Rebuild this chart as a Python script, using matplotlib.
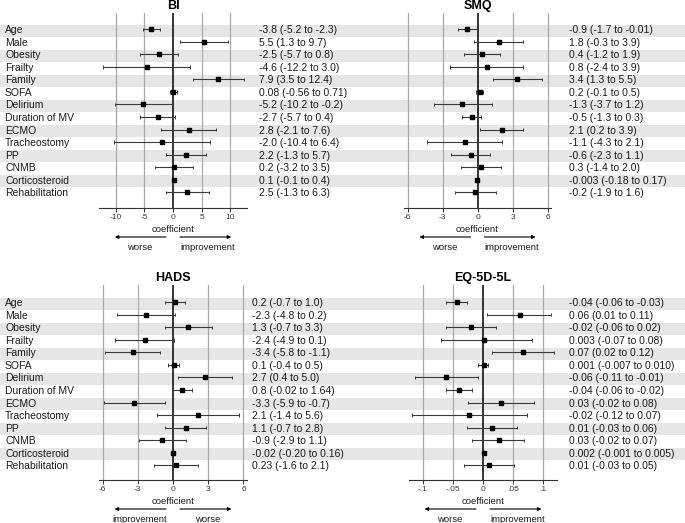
import matplotlib
matplotlib.use("Agg")
import matplotlib.pyplot as plt
from matplotlib.patches import Rectangle
from matplotlib.transforms import blended_transform_factory

plt.rcParams['font.family'] = ['Liberation Sans', 'DejaVu Sans']

W, H = 685, 523

variables = ["Age", "Male", "Obesity", "Frailty", "Family", "SOFA", "Delirium",
             "Duration of MV", "ECMO", "Tracheostomy", "PP", "CNMB",
             "Corticosteroid", "Rehabilitation"]

# ---- BI ----
bi_est = [-3.8, 5.5, -2.5, -4.6, 7.9, 0.08, -5.2, -2.7, 2.8, -2.0, 2.2, 0.2, 0.1, 2.5]
bi_lo = [-5.2, 1.3, -5.7, -12.2, 3.5, -0.56, -10.2, -5.7, -2.1, -10.4, -1.3, -3.2, -0.1, -1.3]
bi_hi = [-2.3, 9.7, 0.8, 3.0, 12.4, 0.71, -0.2, 0.4, 7.6, 6.4, 5.7, 3.5, 0.4, 6.3]
bi_txt = ["-3.8 (-5.2 to -2.3)", "5.5 (1.3 to 9.7)", "-2.5 (-5.7 to 0.8)",
          "-4.6 (-12.2 to 3.0)", "7.9 (3.5 to 12.4)", "0.08 (-0.56 to 0.71)",
          "-5.2 (-10.2 to -0.2)", "-2.7 (-5.7 to 0.4)", "2.8 (-2.1 to 7.6)",
          "-2.0 (-10.4 to 6.4)", "2.2 (-1.3 to 5.7)", "0.2 (-3.2 to 3.5)",
          "0.1 (-0.1 to 0.4)", "2.5 (-1.3 to 6.3)"]

# ---- SMQ ----
smq_est = [-0.9, 1.8, 0.4, 0.8, 3.4, 0.2, -1.3, -0.5, 2.1, -1.1, -0.6, 0.3, -0.003, -0.2]
smq_lo = [-1.7, -0.3, -1.2, -2.4, 1.3, -0.1, -3.7, -1.3, 0.2, -4.3, -2.3, -1.4, -0.18, -1.9]
smq_hi = [-0.01, 3.9, 1.9, 3.9, 5.5, 0.5, 1.2, 0.3, 3.9, 2.1, 1.1, 2.0, 0.17, 1.6]
smq_txt = ["-0.9 (-1.7 to -0.01)", "1.8 (-0.3 to 3.9)", "0.4 (-1.2 to 1.9)",
           "0.8 (-2.4 to 3.9)", "3.4 (1.3 to 5.5)", "0.2 (-0.1 to 0.5)",
           "-1.3 (-3.7 to 1.2)", "-0.5 (-1.3 to 0.3)", "2.1 (0.2 to 3.9)",
           "-1.1 (-4.3 to 2.1)", "-0.6 (-2.3 to 1.1)", "0.3 (-1.4 to 2.0)",
           "-0.003 (-0.18 to 0.17)", "-0.2 (-1.9 to 1.6)"]

# ---- HADS ----
hads_est = [0.2, -2.3, 1.3, -2.4, -3.4, 0.1, 2.7, 0.8, -3.3, 2.1, 1.1, -0.9, -0.02, 0.23]
hads_lo = [-0.7, -4.8, -0.7, -4.9, -5.8, -0.4, 0.4, -0.02, -5.9, -1.4, -0.7, -2.9, -0.20, -1.6]
hads_hi = [1.0, 0.2, 3.3, 0.1, -1.1, 0.5, 5.0, 1.64, -0.7, 5.6, 2.8, 1.1, 0.16, 2.1]
hads_txt = ["0.2 (-0.7 to 1.0)", "-2.3 (-4.8 to 0.2)", "1.3 (-0.7 to 3.3)",
            "-2.4 (-4.9 to 0.1)", "-3.4 (-5.8 to -1.1)", "0.1 (-0.4 to 0.5)",
            "2.7 (0.4 to 5.0)", "0.8 (-0.02 to 1.64)", "-3.3 (-5.9 to -0.7)",
            "2.1 (-1.4 to 5.6)", "1.1 (-0.7 to 2.8)", "-0.9 (-2.9 to 1.1)",
            "-0.02 (-0.20 to 0.16)", "0.23 (-1.6 to 2.1)"]

# ---- EQ-5D-5L ----
eq_est = [-0.043, 0.061, -0.020, 0.002, 0.066, 0.001, -0.061, -0.040, 0.030, -0.023, 0.015, 0.026, 0.002, 0.010]
eq_lo = [-0.062, 0.007, -0.062, -0.070, 0.015, -0.008, -0.113, -0.062, -0.025, -0.118, -0.026, -0.018, -0.001, -0.031]
eq_hi = [-0.026, 0.113, 0.022, 0.082, 0.118, 0.009, -0.008, -0.018, 0.085, 0.073, 0.056, 0.068, 0.005, 0.051]
eq_txt = ["-0.04 (-0.06 to -0.03)", "0.06 (0.01 to 0.11)", "-0.02 (-0.06 to 0.02)",
          "0.003 (-0.07 to 0.08)", "0.07 (0.02 to 0.12)", "0.001 (-0.007 to 0.010)",
          "-0.06 (-0.11 to -0.01)", "-0.04 (-0.06 to -0.02)", "0.03 (-0.02 to 0.08)",
          "-0.02 (-0.12 to 0.07)", "0.01 (-0.03 to 0.06)", "0.03 (-0.02 to 0.07)",
          "0.002 (-0.001 to 0.005)", "0.01 (-0.03 to 0.05)"]

bi_ticks = [-10, -5, 0, 5, 10]
bi_ticklabels = ["-10", "-5", "0", "5", "10"]
six_ticks = [-6, -3, 0, 3, 6]
six_ticklabels = ["-6", "-3", "0", "3", "6"]
eq_ticks = [-0.1, -0.05, 0, 0.05, 0.1]
eq_ticklabels = ["-.1", "-.05", "0", ".05", ".1"]

panels = [
    dict(title="BI", est=bi_est, lo=bi_lo, hi=bi_hi, txt=bi_txt,
         px=(99.3, 246.7, 13, 208), row0=29.3, xlim=12.9,
         ticks=bi_ticks, tl=bi_ticklabels, textx=259, labels=True,
         left="worse", right="improvement", bands=True),
    dict(title="SMQ", est=smq_est, lo=smq_lo, hi=smq_hi, txt=smq_txt,
         px=(404, 551, 13, 208), row0=29.3, xlim=6.3,
         ticks=six_ticks, tl=six_ticklabels, textx=569, labels=False,
         left="worse", right="improvement", bands=False),
    dict(title="HADS", est=hads_est, lo=hads_lo, hi=hads_hi, txt=hads_txt,
         px=(99, 247, 285, 480), row0=302.3, xlim=6.3,
         ticks=six_ticks, tl=six_ticklabels, textx=252, labels=True,
         left="improvement", right="worse", bands=True),
    dict(title="EQ-5D-5L", est=eq_est, lo=eq_lo, hi=eq_hi, txt=eq_txt,
         px=(409, 557, 285, 480), row0=302.3, xlim=0.123,
         ticks=eq_ticks, tl=eq_ticklabels, textx=569, labels=False,
         left="worse", right="improvement", bands=False),
]

fig = plt.figure(figsize=(W / 100, H / 100), dpi=100)
fig.patch.set_facecolor("white")

spacing = 12.53
n = len(variables)
band_col = "#e6e6e6"
grid_col = "#a8a8a8"
txt_col = "#1a1a1a"

def fy(ypx):
    return 1 - ypx / H

for p in panels:
    x0, x1, yt, yb = p["px"]
    ax = fig.add_axes([x0 / W, fy(yb), (x1 - x0) / W, (yb - yt) / H])
    ax.set_facecolor("none")
    ax.set_xlim(-p["xlim"], p["xlim"])
    ytop = -(p["row0"] - yt) / spacing
    ybot = (yb - p["row0"]) / spacing
    ax.set_ylim(ybot, ytop)
    for s in ["top", "right", "left"]:
        ax.spines[s].set_visible(False)
    ax.spines["bottom"].set_color("#333333")
    ax.spines["bottom"].set_linewidth(0.8)
    ax.set_yticks([])
    ax.set_xticks(p["ticks"])
    ax.set_xticklabels(p["tl"])
    ax.tick_params(axis="x", direction="out", length=3, width=0.7, color="#333333",
                   labelsize=6, labelcolor="#333333", pad=1.5)

    bt = blended_transform_factory(fig.transFigure, ax.transData)
    if p["bands"]:
        for i in range(0, n, 2):
            ax.add_patch(Rectangle((0, i - 0.5 + 0.12), 1, 1, transform=bt,
                                   facecolor=band_col, edgecolor="none",
                                   zorder=0, clip_on=False))

    for t in p["ticks"]:
        if t == 0:
            ax.axvline(0, color="black", lw=1.1, zorder=2)
        else:
            ax.axvline(t, color=grid_col, lw=0.9, zorder=1)

    rows = list(range(n))
    ax.hlines(rows, p["lo"], p["hi"], color="#3a3a3a", lw=0.8, zorder=3)
    cap = 0.13
    ax.vlines(p["lo"], [r - cap for r in rows], [r + cap for r in rows],
              color="#3a3a3a", lw=0.7, zorder=3)
    ax.vlines(p["hi"], [r - cap for r in rows], [r + cap for r in rows],
              color="#3a3a3a", lw=0.7, zorder=3)
    ax.plot(p["est"], rows, "s", color="black", markersize=2.8, zorder=4)

    for i in rows:
        if p["labels"]:
            ax.text(5 / W, i + 0.08, variables[i], transform=bt, ha="left",
                    va="center", fontsize=7.5, color=txt_col, clip_on=False)
        ax.text(p["textx"] / W, i + 0.08, p["txt"][i], transform=bt, ha="left",
                va="center", fontsize=7.5, color=txt_col, clip_on=False)

    bx = blended_transform_factory(ax.transAxes, fig.transFigure)
    ax.text(0.5, fy(yt - 7), p["title"], transform=bx, ha="center", va="center",
            fontsize=9, fontweight="bold", color="black")
    ax.text(0.5, fy(yb + 21), "coefficient", transform=bx, ha="center",
            va="center", fontsize=6.8, color=txt_col)
    ya = fy(yb + 29)
    ax.annotate("", xy=(0.5 - 0.395, ya), xytext=(0.5 - 0.047, ya),
                xycoords=bx, textcoords=bx,
                arrowprops=dict(arrowstyle="-|>", color="black", lw=0.8,
                                mutation_scale=5, shrinkA=0, shrinkB=0))
    ax.annotate("", xy=(0.5 + 0.395, ya), xytext=(0.5 + 0.047, ya),
                xycoords=bx, textcoords=bx,
                arrowprops=dict(arrowstyle="-|>", color="black", lw=0.8,
                                mutation_scale=5, shrinkA=0, shrinkB=0))
    ax.text(0.5 - 0.225, fy(yb + 40), p["left"], transform=bx, ha="center",
            va="center", fontsize=6.8, color=txt_col)
    ax.text(0.5 + 0.235, fy(yb + 40), p["right"], transform=bx, ha="center",
            va="center", fontsize=6.8, color=txt_col)

fig.savefig("out.png", dpi=100)
